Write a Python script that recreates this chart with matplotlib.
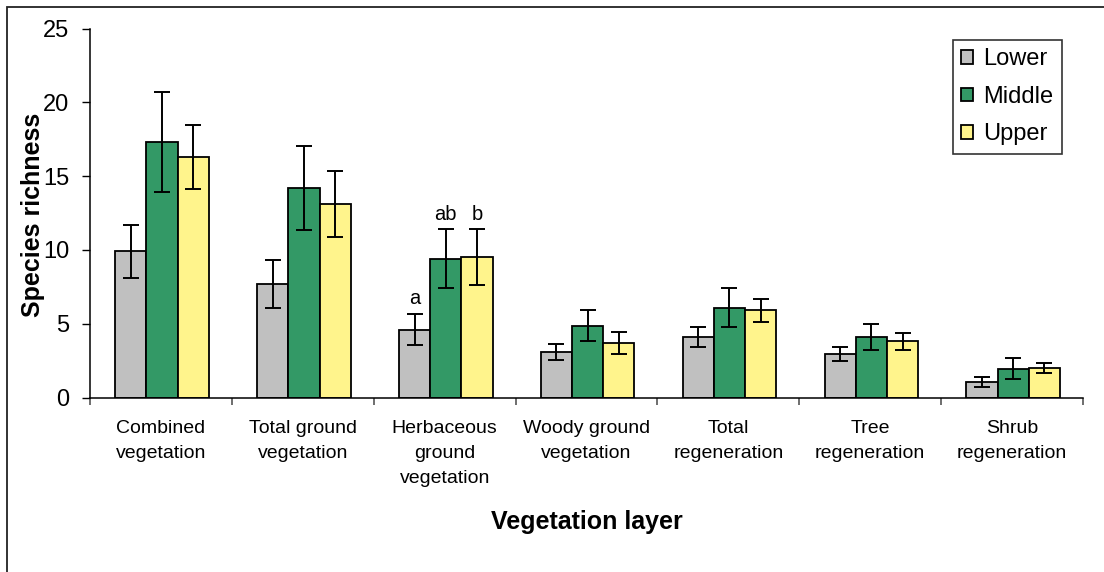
import matplotlib
matplotlib.use("Agg")
import matplotlib.pyplot as plt
import numpy as np
from matplotlib.patches import Rectangle

plt.rcParams['font.family'] = ['Liberation Sans', 'DejaVu Sans']

categories = ["Combined\nvegetation", "Total ground\nvegetation",
              "Herbaceous\nground\nvegetation", "Woody ground\nvegetation",
              "Total\nregeneration", "Tree\nregeneration", "Shrub\nregeneration"]
series_names = ["Lower", "Middle", "Upper"]
lower = [9.9, 7.7, 4.6, 3.1, 4.1, 2.95, 1.05]
middle = [17.3, 14.2, 9.4, 4.85, 6.1, 4.1, 1.95]
upper = [16.3, 13.1, 9.5, 3.7, 5.9, 3.8, 2.0]
lower_err = [1.8, 1.6, 1.05, 0.55, 0.68, 0.5, 0.34]
middle_err = [3.4, 2.85, 2.0, 1.05, 1.35, 0.85, 0.7]
upper_err = [2.2, 2.25, 1.9, 0.75, 0.8, 0.6, 0.37]
letters = {2: ["a", "ab", "b"]}
colors = ["#C0C0C0", "#339966", "#FFF48C"]

fig = plt.figure(figsize=(11.04, 5.72), dpi=100)
ax = fig.add_axes([90 / 1104, 1 - 397.5 / 572, 993 / 1104, (397.5 - 28.7) / 572])

x = np.arange(len(categories))
w = 0.22
values = [lower, middle, upper]
errors = [lower_err, middle_err, upper_err]
for k, (vals, errs, col, name) in enumerate(zip(values, errors, colors, series_names)):
    pos = x + (k - 1) * w + 0.008
    ax.bar(pos, vals, width=w, color=col, edgecolor="black", linewidth=1.3,
           label=name, zorder=2)
    ax.errorbar(pos, vals, yerr=errs, fmt="none", ecolor="black",
                elinewidth=1.4, capsize=5.5, capthick=1.4, zorder=3)
    for ci, labs in letters.items():
        ax.annotate(labs[k], (pos[ci], vals[ci] + errs[ci]),
                    xytext=(0, 7), textcoords="offset points",
                    ha="center", va="baseline", fontsize=14.5)

ax.set_xlim(-0.5, len(categories) - 0.5)
ax.set_ylim(0, 25)
ax.set_yticks([0, 5, 10, 15, 20, 25])
ax.tick_params(axis="y", labelsize=17, length=6, width=1, pad=9)
ax.set_xticks(np.arange(len(categories) + 1) - 0.5)
ax.set_xticklabels([])
ax.set_xticks(x, categories, minor=True)
ax.tick_params(axis="x", which="major", length=5, width=1.2, color="#555555")
ax.tick_params(axis="x", which="minor", length=0, labelsize=14, pad=16)
for lab in ax.get_xticklabels(minor=True):
    lab.set_linespacing(1.62)

for s in ["top", "right"]:
    ax.spines[s].set_visible(False)
for s in ["left", "bottom"]:
    ax.spines[s].set_linewidth(1.1)
    ax.spines[s].set_color("black")

fig.text(33 / 1104, 1 - 215 / 572, "Species richness", rotation=90,
         ha="center", va="center", fontsize=18, fontweight="bold")
fig.text(587 / 1104, 1 - 522 / 572, "Vegetation layer",
         ha="center", va="center", fontsize=18, fontweight="bold")

leg = ax.legend(loc="upper right", bbox_to_anchor=(1062 / 1104, 1 - 40 / 572),
                bbox_transform=fig.transFigure, borderaxespad=0, fontsize=17,
                handlelength=0.5, handleheight=0.5, handletextpad=0.45,
                labelspacing=0.66, borderpad=0.35, fancybox=False, framealpha=1)
leg.get_frame().set_edgecolor("#333333")
leg.get_frame().set_linewidth(1.2)

# outer chart-area frame (top and left edges inside the image)
fig.add_artist(Rectangle((7 / 1104, -0.2), 1.5, 1.2 - 7 / 572,
                         transform=fig.transFigure, fill=False,
                         edgecolor="#222222", linewidth=1.3))

fig.savefig("out.png", dpi=100)
